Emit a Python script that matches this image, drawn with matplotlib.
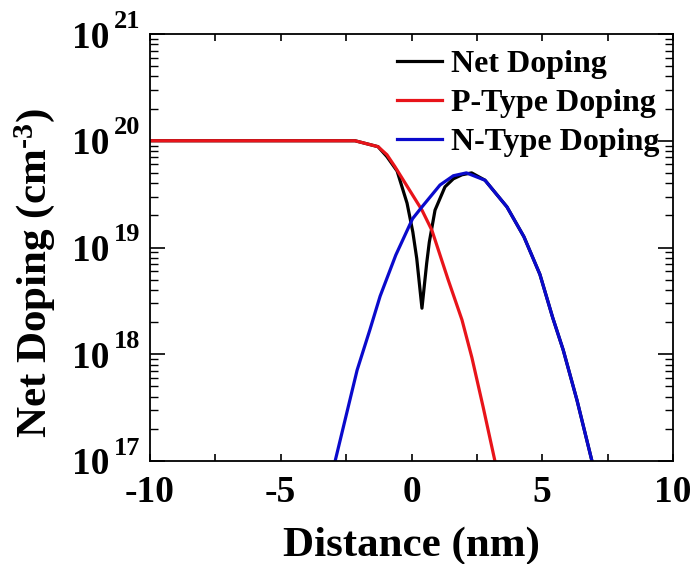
import matplotlib
matplotlib.use("Agg")
import matplotlib.pyplot as plt
from matplotlib.ticker import FixedLocator, LogLocator, NullFormatter

# ---- data ----
p_x = [-10, -2.16, -1.28, -0.94, -0.63, 0.4, 0.78, 1.4, 1.93, 2.31, 2.74, 3.19, 3.5]
p_y = [1.0e20, 1.0e20, 8.8e19, 7.4e19, 5.7e19, 2.24e19, 1.45e19, 5.0e18, 2.1e18,
       9.3e17, 3.2e17, 1.0e17, 4.5e16]

n_x = [-3.2, -2.92, -2.08, -1.59, -1.2, -0.6, 0.04, 0.4, 1.09, 1.6, 2.1, 2.81,
       3.65, 4.3, 4.91, 5.4, 5.8, 6.33, 6.9, 7.2]
n_y = [5.2e16, 1.0e17, 7.1e17, 1.7e18, 3.5e18, 8.5e18, 1.86e19, 2.4e19, 3.85e19,
       4.7e19, 5.0e19, 4.27e19, 2.4e19, 1.26e19, 5.6e18, 2.2e18, 1.1e18, 3.7e17,
       1.0e17, 5.0e16]

net_x = [-10, -2.16, -1.28, -0.94, -0.55, -0.17, 0.05, 0.2, 0.4, 0.58, 0.68, 0.9,
         1.28, 1.6, 1.93, 2.3, 2.81, 3.65, 4.3, 4.91, 5.4, 5.8, 6.33, 6.9, 7.2]
net_y = [1.0e20, 1.0e20, 8.8e19, 7.1e19, 5.2e19, 2.6e19, 1.4e19, 7.9e18, 2.7e18,
         7.1e18, 1.12e19, 2.24e19, 3.7e19, 4.4e19, 4.8e19, 5.0e19, 4.27e19, 2.4e19,
         1.26e19, 5.6e18, 2.2e18, 1.1e18, 3.7e17, 1.0e17, 5.0e16]

series_labels = ["Net Doping", "P-Type Doping", "N-Type Doping"]
x_ticks = [-10, -7.5, -5, -2.5, 0, 2.5, 5, 7.5, 10]
x_tick_labels = ["-10", "", "-5", "", "0", "", "5", "", "10"]
y_exponents = [17, 18, 19, 20, 21]

plt.rcParams["font.family"] = ["Liberation Serif", "DejaVu Serif"]
plt.rcParams["font.weight"] = "bold"
plt.rcParams["mathtext.fontset"] = "custom"
plt.rcParams["mathtext.rm"] = "Liberation Serif:bold"
plt.rcParams["mathtext.bf"] = "Liberation Serif:bold"
plt.rcParams["mathtext.it"] = "Liberation Serif:bold"
plt.rcParams["mathtext.default"] = "rm"
plt.rcParams["axes.unicode_minus"] = False

fig = plt.figure(figsize=(6.95, 5.64), dpi=100)
ax = fig.add_axes([150 / 695, 1 - 461 / 564, 523 / 695, 427 / 564])

lw = 2.3
ax.plot(net_x, net_y, color="black", lw=lw, label=series_labels[0], solid_joinstyle="round")
ax.plot(p_x, p_y, color="#e8141a", lw=lw, label=series_labels[1])
ax.plot(n_x, n_y, color="#0a0acc", lw=lw, label=series_labels[2])

ax.set_yscale("log")
ax.set_xlim(-10, 10)
ax.set_ylim(1e17, 1e21)

# x ticks
ax.xaxis.set_major_locator(FixedLocator(x_ticks))
ax.set_xticklabels(x_tick_labels)
ax.tick_params(axis="x", which="major", direction="in", length=5, width=1.2,
               top=True, bottom=True, labelsize=27, pad=10)

# y ticks
ax.yaxis.set_major_locator(FixedLocator([10.0 ** e for e in y_exponents]))
ax.set_yticklabels(["10"] * len(y_exponents))
ax.yaxis.set_minor_locator(LogLocator(base=10, subs=range(2, 10)))
ax.yaxis.set_minor_formatter(NullFormatter())
ax.tick_params(axis="y", which="major", direction="in", length=11, width=1.2,
               left=True, right=True, labelsize=27, pad=29)
ax.tick_params(axis="y", which="minor", direction="in", length=6, width=1.0,
               left=True, right=True)

for e in y_exponents:
    ax.annotate(str(e), xy=(0, 10.0 ** e), xycoords=("axes fraction", "data"),
                xytext=(-7.0, 4.5), textcoords="offset points", ha="right",
                va="baseline", fontsize=19, fontweight="bold", annotation_clip=False)

for s in ax.spines.values():
    s.set_linewidth(1.3)

ax.set_xlabel("Distance (nm)", fontsize=31, fontweight="bold", labelpad=12)
ax.set_ylabel(r"Net Doping (cm$^{\text{-}3}$)", fontsize=31, fontweight="bold")
ax.yaxis.set_label_coords(-0.178, 0.44)

leg = ax.legend(loc="upper right", frameon=False, fontsize=23, handlelength=1.41,
                handletextpad=0.3, labelspacing=0.3, borderaxespad=0.1,
                bbox_to_anchor=(1.005, 1.0))

fig.savefig("out.png", dpi=100)
